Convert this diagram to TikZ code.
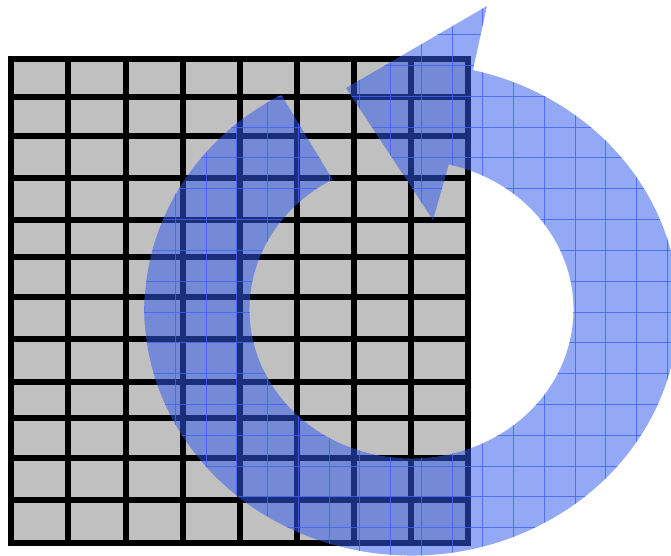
\documentclass[tikz,border=0pt]{standalone}
\usepackage{xcolor}
\usepackage{tikz}
\usetikzlibrary{calc}
\definecolor{cellgray}{RGB}{192,192,192}
\definecolor{ringblue}{RGB}{50,90,235}
\definecolor{meshblue}{RGB}{60,100,255}
\newcommand{\arrowoutline}{
  ($(hub)+(-119.2:267 and 246)$) arc[start angle=-119.2, end angle=-436.7, x radius=267, y radius=246]
  -- (487,6) -- (346,88) -- (433,220)
  -- ($(hub)+(-436.7:162 and 149)$) arc[start angle=-436.7, end angle=-119.2, x radius=162, y radius=149]
  -- cycle}

\begin{document}
\begin{tikzpicture}[
    x=0.75pt, y=-0.75pt,
    cellline/.style={line width=4pt, line cap=rect},
    band/.style={fill=ringblue, fill opacity=0.52},
    mesh/.style={draw=meshblue, line width=0.75pt, opacity=0.8},
]
    \useasboundingbox (0,0) rectangle (671,556);

    % Cells
    \fill[cellgray] (11,59) rectangle (468,543);
    \foreach \gx in {11,68,126,183,240,297,354,411,468}
        \draw[cellline] (\gx,59) -- (\gx,543);
    \foreach \gy in {59,97,136,178,220,257,297,339,382,418,458,500,543}
        \draw[cellline] (11,\gy) -- (468,\gy);

    % Circular arrow
    \coordinate (hub) at (411.5,309.5);
    \fill[band] \arrowoutline;
    \begin{scope}
        \clip \arrowoutline;
        \foreach \k in {0,...,21}
            \draw[mesh] (21.5+30.75*\k,0) -- (21.5+30.75*\k,556);
        \foreach \k in {0,...,18}
            \draw[mesh] (0,4+30.8*\k) -- (671,4+30.8*\k);
    \end{scope}
\end{tikzpicture}
\end{document}
